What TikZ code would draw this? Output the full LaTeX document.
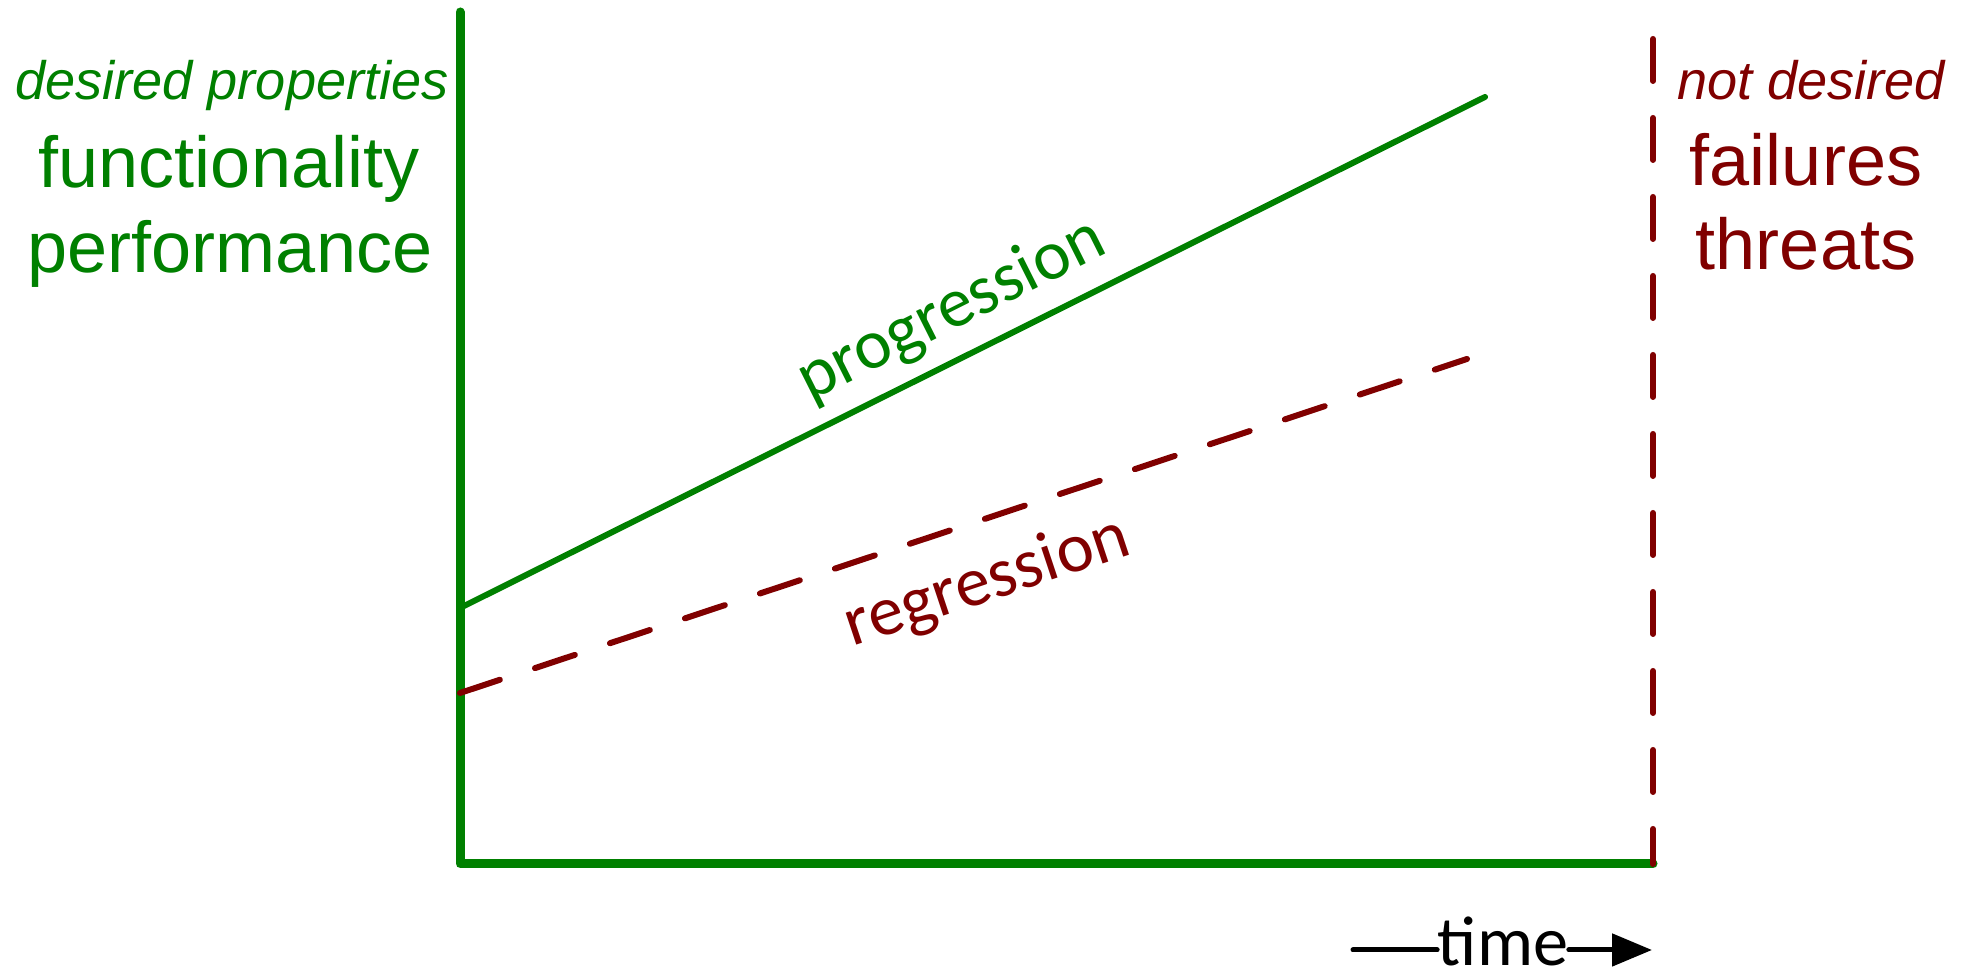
\documentclass[tikz,border=0pt]{standalone}
\usepackage{fontspec}
\setmainfont{Liberation Sans}
\newfontfamily\carlito{Carlito}
\usetikzlibrary{arrows.meta}
\definecolor{goodgreen}{RGB}{0,128,0}
\definecolor{badred}{RGB}{128,0,0}
\begin{document}
\begin{tikzpicture}[line cap=round,line join=round,
  axis/.style={goodgreen,line width=0.09cm},
  trend/.style={line width=0.06cm},
  brokenline/.style={badred,line width=0.06cm,dash pattern=on 0.42cm off 0.37cm},
  big/.style={font=\fontsize{20.5}{24}\selectfont},
  small/.style={font=\fontsize{15.4}{18}\selectfont\itshape},
  slanted/.style={font=\carlito\fontsize{20}{24}\selectfont}]
  \useasboundingbox (0,0) rectangle (19.69,9.77);
  \coordinate (T) at (4.60,9.65); \coordinate (O) at (4.60,1.13);
  \coordinate (E) at (16.53,1.13); \coordinate (V) at (16.53,9.38);
  \coordinate (P0) at (4.60,3.69); \coordinate (P1) at (14.85,8.80);
  \coordinate (R0) at (4.60,2.84); \coordinate (R1) at (14.67,6.18);
  \draw[axis] (T)--(O)--(E);
  \draw[trend,goodgreen] (P0)--(P1);
  \draw[brokenline] (R0)--(R1);
  \draw[brokenline] (V)--(E);
  \node[slanted,goodgreen,rotate=26.6,anchor=base] (prog) at (9.60,6.50) {progression};
  \node[slanted,badred,rotate=18.4,anchor=base] (regr) at (9.93,3.77) {regression};
  % labels of the two sides
  \node[small,goodgreen,anchor=base] (desired) at (2.32,8.77) {desired properties};
  \node[big,goodgreen,anchor=base] (func) at (2.29,7.89) {functionality};
  \node[big,goodgreen,anchor=base] (perf) at (2.30,7.04) {performance};
  \node[small,badred,anchor=base] (notdes) at (18.11,8.77) {not desired};
  \node[big,badred,anchor=base] (fail) at (18.06,7.91) {failures};
  \node[big,badred,anchor=base] (threat) at (18.06,7.07) {threats};
  % time arrow
  \node[font=\carlito\fontsize{20}{24}\selectfont,inner sep=0pt,anchor=base] (time) at (15.03,0.11) {time};
  \coordinate (tl) at (13.53,0.27); \coordinate (tr) at (16.52,0.27);
  \draw[line width=0.05cm] (tl) -- (tl -| time.west);
  \draw[line width=0.05cm,-{Triangle[length=0.4cm,width=0.32cm]}] (time.east |- tr) -- (tr);
\end{tikzpicture}
\end{document}
